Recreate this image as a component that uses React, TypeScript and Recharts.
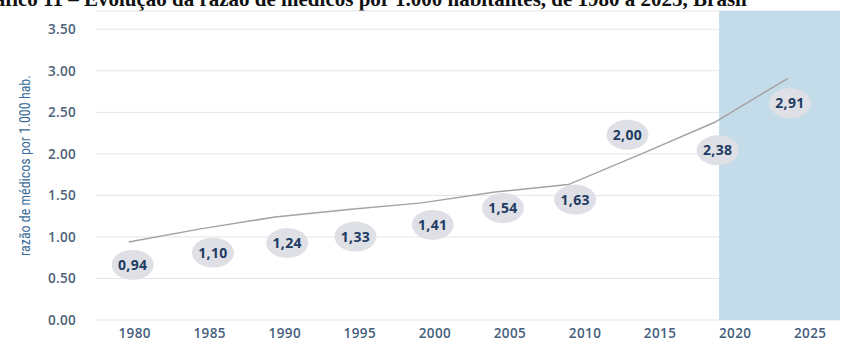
import { LineChart, Line, XAxis, YAxis, CartesianGrid, ReferenceArea, LabelList } from 'recharts';

const years = [1980, 1985, 1990, 1995, 2000, 2005, 2010, 2015, 2020, 2025];
const ratio = [0.94, 1.10, 1.24, 1.33, 1.41, 1.54, 1.63, 2.00, 2.38, 2.91];
const ratioLabels = ['0,94', '1,10', '1,24', '1,33', '1,41', '1,54', '1,63', '2,00', '2,38', '2,91'];
const yTicks = [0, 0.5, 1, 1.5, 2, 2.5, 3, 3.5];

const data = years.map((y, i) => ({ year: y, ratio: ratio[i], label: ratioLabels[i] }));

// where each bubble sits relative to its point (hand tuned)
const bubbleShift = [
  [4, 23], [11, 24], [12, 26], [7, 27], [11, 22],
  [8, 16], [7, 15], [-14, -19], [3, 28], [2, 25],
];

const Bubble = (props: any) => {
  const { x, y, index, value } = props;
  const [dx, dy] = bubbleShift[index] || [0, 20];
  const cx = x + dx;
  const cy = y + dy;
  return (
    <g>
      <ellipse cx={cx} cy={cy} rx={21} ry={15} fill="#dfe0e5" />
      <text x={cx} y={cy} dy={5} textAnchor="middle" fontSize={14} fontWeight={700} letterSpacing={0.4}
        fontFamily="'Open Sans', sans-serif" fill="#213c62">{value}</text>
    </g>
  );
};

const YearTick = (props: any) => {
  const { x, y, payload } = props;
  const i = (payload.value - 1980) / 5;
  return (
    <text x={x + 6 + 1.8 * i} y={y} dy={10} textAnchor="middle" fontSize={13.5} fontWeight={600} letterSpacing={0.4}
      fontFamily="'Open Sans', sans-serif" fill="#45607c">{payload.value}</text>
  );
};

function App() {
  return (
    <div style={{ position: 'fixed', top: 0, left: 0, width: 844, height: 340, overflow: 'hidden', background: '#fff' }}>
      <svg width={844} height={20} style={{ position: 'absolute', top: 0, left: 0 }}>
        <text x={-31} y={6} fontSize={21} fontWeight={700} fontFamily="'Liberation Serif', serif" fill="#111">
          Gráfico 11 – Evolução da razão de médicos por 1.000 habitantes, de 1980 a 2025, Brasil
        </text>
      </svg>
      <div style={{ position: 'absolute', top: 0, left: 0 }}>
        <LineChart width={844} height={340} data={data} margin={{ top: 11, right: 4, bottom: 0, left: 0 }}>
          <ReferenceArea x1={2020.3} x2={2028.55} y1={0} y2={3.72} fill="#c4dbe9" fillOpacity={1} stroke="none" />
          <CartesianGrid vertical={false} stroke="#e4e5e8" strokeWidth={1} />
          <XAxis dataKey="year" type="number" domain={[1977.7, 2028.55]} ticks={years}
            allowDataOverflow axisLine={false} tickLine={false} tick={<YearTick />} height={20} />
          <YAxis domain={[0, 3.72]} ticks={yTicks} allowDataOverflow width={95}
            axisLine={false} tickLine={false} tickMargin={13}
            tickFormatter={(v: number) => v.toFixed(2)}
            tick={{ fontSize: 13.5, fontWeight: 600, fill: '#4c6279', fontFamily: "'Open Sans', sans-serif", letterSpacing: 0.3 }}
            label={{
              value: 'razão de médicos por 1.000 hab.', angle: -90, position: 'insideLeft', offset: 25,
              style: { textAnchor: 'middle', fontSize: 14, fill: '#3a6b98', fontFamily: "'Liberation Sans Narrow', 'Roboto Condensed', 'Roboto', sans-serif" },
            }} />
          <Line dataKey="ratio" type="linear" stroke="#a3a3a3" strokeWidth={1.5} dot={false} isAnimationActive={false}>
            <LabelList dataKey="label" content={<Bubble />} />
          </Line>
        </LineChart>
      </div>
    </div>
  );
}

export default App;
